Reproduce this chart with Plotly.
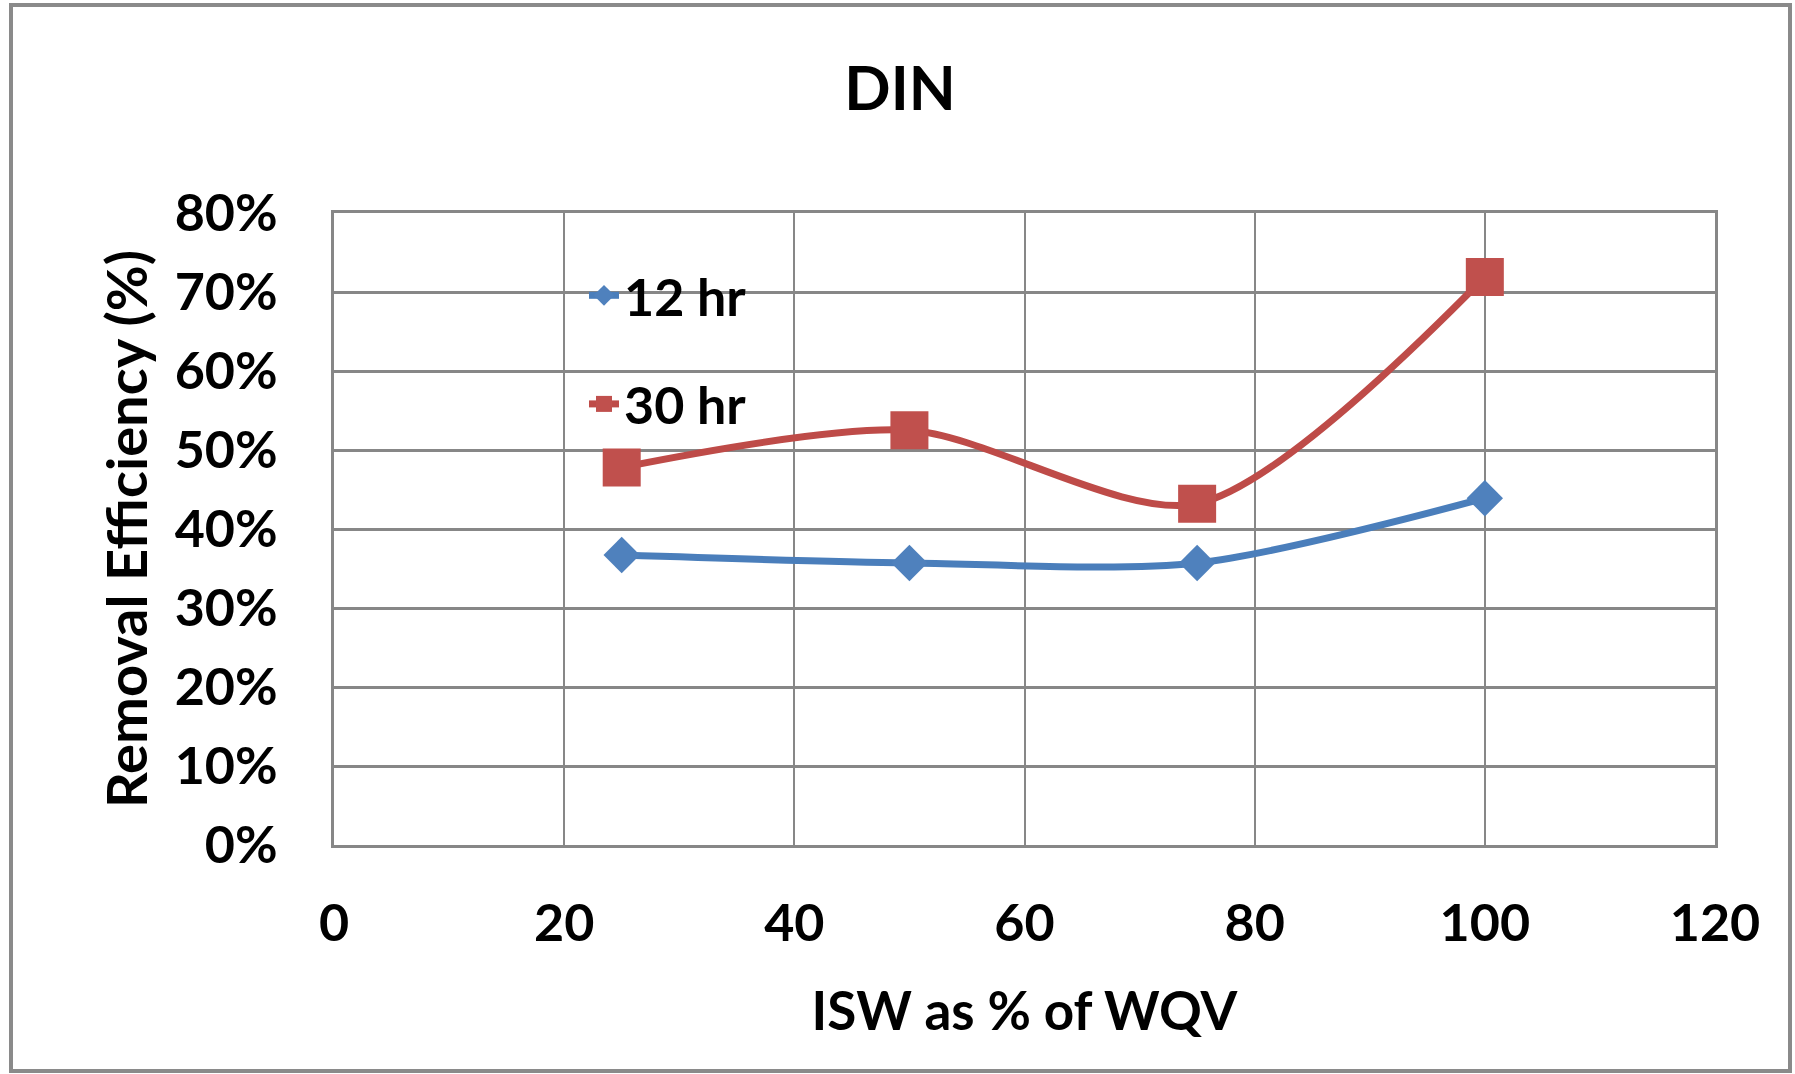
import plotly.graph_objects as go

x_vals = [25, 50, 75, 100]
hr12 = [0.367, 0.357, 0.357, 0.439]
hr30 = [0.478, 0.525, 0.432, 0.719]
series_names = ["12 hr", "30 hr"]
x_ticks = [0, 20, 40, 60, 80, 100, 120]
y_ticks = [0, 0.1, 0.2, 0.3, 0.4, 0.5, 0.6, 0.7, 0.8]
y_tick_labels = [f"{int(round(v*100))}%" for v in y_ticks]

FONT = "Lato"
W, H = 1795, 1074
L, R, T, B = 334, 80, 213, 229

fig = go.Figure()
fig.add_trace(go.Scatter(
    x=x_vals, y=hr12, name=series_names[0], mode="lines+markers", legendgroup="a",
    line=dict(color="#4A7EBB", width=7, shape="spline", smoothing=0.8),
    marker=dict(symbol="diamond", size=28, color="#4F81BD",
                line=dict(color="#4F81BD", width=0)),
))
fig.add_trace(go.Scatter(
    x=x_vals, y=hr30, name=series_names[1], mode="lines+markers", legendgroup="b",
    line=dict(color="#BE4B48", width=7, shape="spline", smoothing=0.8),
    marker=dict(symbol="square", size=38, color="#C0504D",
                line=dict(color="#BE4B48", width=0)),
))

grid = "#878787"
fig.update_layout(
    width=W, height=H,
    margin=dict(l=L, r=R, t=T, b=B, pad=0),
    paper_bgcolor="white", plot_bgcolor="white",
    font=dict(family=FONT, size=52, color="black", weight="bold"),
    title=dict(text="DIN", x=(900) / W, xanchor="center", y=1 - 89 / H, yanchor="middle",
               font=dict(family=FONT, size=61, color="black", weight="bold")),
    showlegend=True,
    legend=dict(x=(584 - L) / (W - L - R), y=1 - (255 - T) / (H - T - B),
                xanchor="left", yanchor="top", bgcolor="rgba(0,0,0,0)",
                font=dict(family=FONT, size=52, color="black", weight="bold"),
                itemsizing="trace", tracegroupgap=38),
    xaxis=dict(range=[0, 120], tickmode="array", tickvals=x_ticks,
               ticktext=[str(v) for v in x_ticks],
               showgrid=True, gridcolor=grid, gridwidth=2,
               showline=True, linecolor=grid, linewidth=3, mirror=True,
               ticks="", ticklabelstandoff=31, zeroline=False,
               title=dict(text="ISW as % of WQV", standoff=42,
                          font=dict(family=FONT, size=53, color="black", weight="bold"))),
    yaxis=dict(range=[0, 0.8], tickmode="array", tickvals=y_ticks, ticktext=y_tick_labels,
               showgrid=True, gridcolor=grid, gridwidth=3,
               showline=True, linecolor=grid, linewidth=3, mirror=True,
               ticks="", ticklabelstandoff=43, zeroline=False,
               title=dict(text="Removal Efficiency (%)", standoff=10,
                          font=dict(family=FONT, size=56, color="black", weight="bold"))),
    shapes=[dict(type="rect", xref="paper", yref="paper",
                 x0=(11 - L) / (W - L - R), x1=(1790 - L) / (W - L - R),
                 y0=1 + (T - 5) / (H - T - B), y1=-(1071 - (H - B)) / (H - T - B),
                 line=dict(color="#8a8a8a", width=4), fillcolor="rgba(0,0,0,0)", layer="below")],
)

fig.write_html("out.html")
